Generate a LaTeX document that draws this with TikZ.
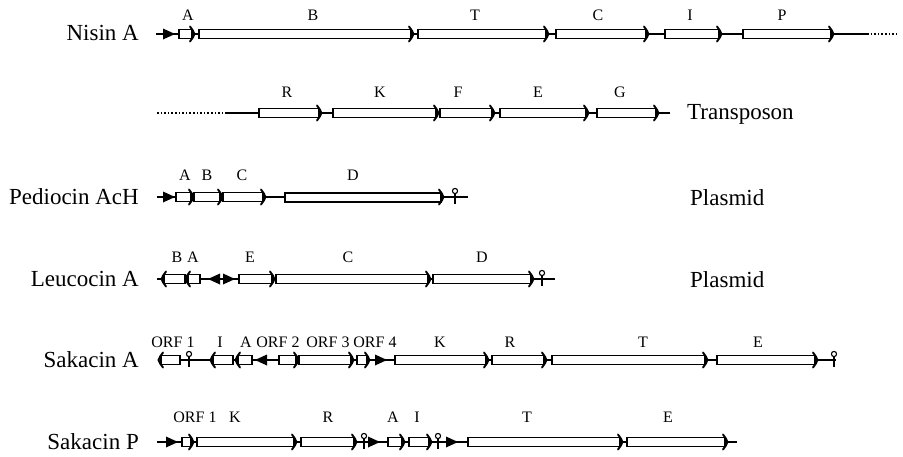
\documentclass[tikz,border=0pt]{standalone}
\usepackage{fontspec}
\setmainfont{Liberation Serif}
\usepackage{tikz}

% gene drawn to the right: #2 = row, #3 = start, #4 = head
\newcommand{\genefwd}[4][]{%
  \draw[genebody,#1] (#3,{#2-4.5}) rectangle ({#4-1},{#2+4.5});
  \draw[genehead] ({#4-3},{#2-7.5}) .. controls ({#4-1},{#2-5}) and ({#4+1},{#2-2}) .. ({#4+1.5},#2)
    .. controls ({#4+1},{#2+2}) and ({#4-1},{#2+5}) .. ({#4-3},{#2+7.5});}
% gene drawn to the left: #2 = row, #3 = head, #4 = end
\newcommand{\generev}[4][]{%
  \draw[genebody,#1] ({#3+1},{#2-4.5}) rectangle (#4,{#2+4.5});
  \draw[genehead] ({#3+3},{#2-7.5}) .. controls ({#3+1},{#2-5}) and ({#3-1},{#2-2}) .. ({#3-1.5},#2)
    .. controls ({#3-1},{#2+2}) and ({#3+1},{#2+5}) .. ({#3+3},{#2+7.5});}
% promoters and terminators
\newcommand{\promfwd}[2]{\fill ({#2-12},{#1-5.5}) -- (#2,#1) -- ({#2-12},{#1+5.5}) -- cycle;}
\newcommand{\promrev}[2]{\fill ({#2+12},{#1-5.5}) -- (#2,#1) -- ({#2+12},{#1+5.5}) -- cycle;}
\newcommand{\termin}[2]{\draw[line width=1.3pt] (#2,{#1+6.5}) -- (#2,{#1-3.5});
  \draw[line width=1.1pt,fill=white] (#2,{#1-6}) circle (2.6);}

\begin{document}
\begin{tikzpicture}[x=1pt, y=-1pt,
  genebody/.style={line width=1.3pt, fill=white},
  genehead/.style={line width=1.9pt, line cap=round},
  axis/.style={line width=1.4pt},
  dots/.style={line width=1.6pt, dotted},
  genelabel/.style={font=\fontsize{16}{19}\selectfont, inner sep=0pt},
  rowname/.style={font=\fontsize{23}{27}\selectfont, inner sep=0pt}]
  \useasboundingbox (0,0) rectangle (903,456);

  % Nisin A
  \node[rowname, anchor=east] (nisin) at (139,33) {Nisin A};
  \draw[axis] (156,34) -- (867,34);
  \draw[dots] (867,34) -- (898,34);
  \promfwd{34}{175}
  \genefwd{34}{179}{193}
  \genefwd{34}{199}{412}
  \genefwd{34}{418}{547}
  \genefwd{34}{556}{647}
  \genefwd{34}{665}{720}
  \genefwd{34}{743}{832}
  \foreach \x/\t in {188/A, 313/B, 475/T, 598/C, 690/I, 782/P}
    \node[genelabel] (nis\t) at (\x,15) {\t};

  % transposon part
  \draw[dots] (157,113) -- (227,113);
  \draw[axis] (227,113) -- (670,113);
  \genefwd{113}{259}{320}
  \genefwd{113}{333}{437}
  \genefwd{113}{440}{493}
  \genefwd{113}{500}{587}
  \genefwd{113}{597}{657}
  \foreach \x/\t in {287/R, 380/K, 458/F, 538/E, 620/G}
    \node[genelabel] (tn\t) at (\x,92) {\t};
  \node[rowname, anchor=west] (transposon) at (687,114) {Transposon};

  % Pediocin AcH
  \node[rowname, anchor=east] (pediocin) at (139,197) {Pediocin AcH};
  \draw[axis] (157,197) -- (468,197);
  \promfwd{197}{175}
  \genefwd{197}{176}{192}
  \genefwd{197}{194}{221}
  \genefwd{197}{223}{264}
  \genefwd[line width=2pt]{197}{285}{442}
  \termin{197}{455}
  \foreach \x/\t in {185/A, 207/B, 242/C, 353/D}
    \node[genelabel] (ped\t) at (\x,175) {\t};
  \node[rowname, anchor=west] (plasmidped) at (690,198) {Plasmid};

  % Leucocin A
  \node[rowname, anchor=east] (leucocin) at (139,279) {Leucocin A};
  \draw[axis] (157,279) -- (555,279);
  \generev{279}{163}{185}
  \generev{279}{187}{200}
  \promrev{279}{208}
  \promfwd{279}{235}
  \genefwd{279}{239}{273}
  \genefwd{279}{276}{429}
  \genefwd{279}{433}{532}
  \termin{279}{542}
  \foreach \x/\t in {177/B, 193/A, 250/E, 348/C, 482/D}
    \node[genelabel] (leu\t) at (\x,257) {\t};
  \node[rowname, anchor=west] (plasmidleu) at (690,280) {Plasmid};

  % Sakacin A
  \node[rowname, anchor=east] (sakacinA) at (139,360) {Sakacin A};
  \draw[axis] (160,360) -- (836,360);
  \generev{360}{160}{180}
  \termin{360}{189}
  \generev{360}{212}{233}
  \generev{360}{237}{252}
  \promrev{360}{255}
  \genefwd{360}{279}{297}
  \genefwd{360}{299}{352}
  \genefwd{360}{357}{368}
  \promfwd{360}{387}
  \genefwd{360}{395}{487}
  \genefwd{360}{492}{545}
  \genefwd{360}{552}{706}
  \genefwd{360}{717}{816}
  \termin{360}{834}
  \foreach \x/\t [count=\i] in {173/ORF 1, 220/I, 246/A, 278/ORF 2, 328/ORF 3, 375/ORF 4,
      440/K, 510/R, 643/T, 758/E}
    \node[genelabel] (sakA\i) at (\x,342) {\t};

  % Sakacin P
  \node[rowname, anchor=east] (sakacinP) at (139,442) {Sakacin P};
  \draw[axis] (157,442) -- (737,442);
  \promfwd{442}{178}
  \genefwd{442}{182}{192}
  \genefwd{442}{197}{295}
  \genefwd{442}{301}{355}
  \termin{442}{364}
  \promfwd{442}{380}
  \genefwd{442}{388}{403}
  \genefwd{442}{409}{430}
  \termin{442}{438}
  \promfwd{442}{458}
  \genefwd{442}{468}{621}
  \genefwd{442}{627}{726}
  \foreach \x/\t [count=\i] in {195/ORF 1, 235/K, 328/R, 393/A, 417/I, 527/T, 668/E}
    \node[genelabel] (sakP\i) at (\x,417) {\t};
\end{tikzpicture}
\end{document}
